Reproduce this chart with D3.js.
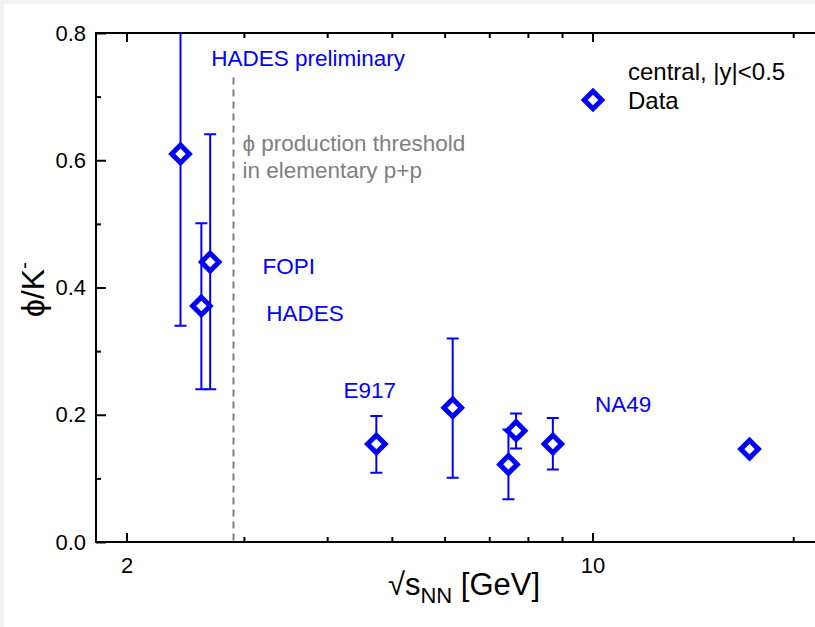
<!DOCTYPE html>
<html>
<head>
<meta charset="utf-8">
<script src="https://cdn.jsdelivr.net/npm/d3@7"></script>
<style>
  html, body { margin: 0; padding: 0; background: #f2f2f2; }
  svg { display: block; }
  text { font-family: "Liberation Sans", Arial, Helvetica, sans-serif; }
</style>
</head>
<body>
<div id="chart"></div>
<script>
// Data
let sqrtS    = [2.41, 2.59, 2.67, 4.74, 6.17, 7.48, 7.68, 8.72, 17.2];
let ratio    = [0.610, 0.371, 0.440, 0.154, 0.211, 0.122, 0.175, 0.154, 0.146];
let errLow   = [0.340, 0.240, 0.240, 0.109, 0.101, 0.067, 0.147, 0.114, null];
let errHigh  = [0.880, 0.501, 0.641, 0.198, 0.320, 0.177, 0.202, 0.195, null];

let xMajorTicks = [2, 10];
let xMinorTicks = [3, 4, 5, 6, 7, 8, 9, 20, 30];
let yMajorTicks = [0.0, 0.2, 0.4, 0.6, 0.8];
let yMinorTicks = [0.1, 0.3, 0.5, 0.7];

let thresholdX = 2.894;   // phi threshold in p+p

// annotation text anchors, in data units
let labelText = ["HADES preliminary", "FOPI", "HADES", "E917", "NA49"];
let labelX    = [2.68, 3.20, 3.24, 4.23, 10.09];
let labelY    = [0.748, 0.422, 0.348, 0.227, 0.204];

let width = 815, height = 627;
let margin = { top: 33, left: 96, bottom: 85 };
let plotH = height - margin.top - margin.bottom;   // 509

let svg = d3.select("#chart")
    .append("svg")
    .attr("width", width)
    .attr("height", height);

svg.append("rect")
    .attr("x", 4).attr("y", 4)
    .attr("width", width - 4).attr("height", height - 4)
    .attr("fill", "white");

let xScale = d3.scaleLog()
    .domain([1.8, 30])
    .range([margin.left, margin.left + 666.7 * Math.log10(30 / 1.8)]);

let yScale = d3.scaleLinear()
    .domain([0, 0.8])
    .range([margin.top + plotH, margin.top]);

let blue = "#0000ff";
let grey = "#808080";

svg.append("defs")
    .append("clipPath")
    .attr("id", "clip")
    .append("rect")
    .attr("x", margin.left)
    .attr("y", margin.top)
    .attr("width", width)
    .attr("height", plotH);

/* threshold line */
svg.append("line")
    .attr("x1", xScale(thresholdX)).attr("x2", xScale(thresholdX))
    .attr("y1", yScale(0.73)).attr("y2", yScale(0))
    .attr("stroke", grey)
    .attr("stroke-width", 2)
    .attr("stroke-dasharray", "7,5");

let threshLabel = svg.append("text")
    .attr("fill", grey)
    .attr("font-size", "22.5px");
threshLabel.append("tspan")
    .attr("x", xScale(thresholdX) + 9).attr("y", 151)
    .text("\u03d5 production threshold");
threshLabel.append("tspan")
    .attr("x", xScale(thresholdX) + 9).attr("y", 178)
    .text("in elementary p+p");

/* axes */
function drawXAxis(axisFn, y, ticks, size, labels) {
    let a = axisFn(xScale)
        .tickValues(ticks)
        .tickSizeInner(size)
        .tickSizeOuter(0)
        .tickPadding(15)
        .tickFormat(labels ? d3.format("d") : "");
    let g = svg.append("g")
        .attr("transform", `translate(0, ${y})`)
        .call(a);
    g.select(".domain").remove();
    g.selectAll(".tick line").attr("stroke", "black").attr("stroke-width", 2);
    g.selectAll(".tick text")
        .attr("font-size", "22px")
        .attr("fill", "black")
        .style("font-family", "'Liberation Sans', Arial, sans-serif");
    return g;
}

drawXAxis(d3.axisBottom, yScale(0), xMinorTicks, -5, false);
drawXAxis(d3.axisBottom, yScale(0), xMajorTicks, -9, true);
drawXAxis(d3.axisTop, yScale(0.8), xMinorTicks, -5, false);
drawXAxis(d3.axisTop, yScale(0.8), xMajorTicks, -9, false);

function drawYAxis(ticks, size, labels) {
    let a = d3.axisLeft(yScale)
        .tickValues(ticks)
        .tickSizeInner(size)
        .tickSizeOuter(0)
        .tickPadding(10)
        .tickFormat(labels ? d3.format(".1f") : "");
    let g = svg.append("g")
        .attr("transform", `translate(${margin.left}, 0)`)
        .call(a);
    g.select(".domain").remove();
    g.selectAll(".tick line").attr("stroke", "black").attr("stroke-width", 2);
    g.selectAll(".tick text")
        .attr("font-size", "22px")
        .attr("fill", "black")
        .style("font-family", "'Liberation Sans', Arial, sans-serif");
}

drawYAxis(yMinorTicks, -5, false);
drawYAxis(yMajorTicks, -10, true);

// frame lines (left, bottom, top; the right edge is outside the picture)
svg.append("path")
    .attr("d", `M${width + 5},${yScale(0.8)} H${margin.left} V${yScale(0)} H${width + 5}`)
    .attr("fill", "none")
    .attr("stroke", "black")
    .attr("stroke-width", 2);

/* axis titles */
let xTitle = svg.append("text")
    .attr("x", 464)
    .attr("y", 595)
    .attr("text-anchor", "middle")
    .attr("font-size", "31px")
    .attr("fill", "black");
xTitle.append("tspan").text("\u221as");
xTitle.append("tspan").attr("font-size", "22px").attr("dy", 8).text("NN");
xTitle.append("tspan").attr("dy", -8).text(" [GeV]");

let yTitle = svg.append("text")
    .attr("transform", `translate(44, ${yScale(0.4) + 2}) rotate(-90)`)
    .attr("text-anchor", "middle")
    .attr("font-size", "32px")
    .attr("fill", "black");
yTitle.append("tspan").text("\u03d5/K");
yTitle.append("tspan").attr("font-size", "21px").attr("dy", -13).text("-");

/* data */
let points = sqrtS.map((s, i) => ({ x: s, y: ratio[i], lo: errLow[i], hi: errHigh[i] }));

let main = svg.append("g").attr("clip-path", "url(#clip)");

let capW = 6;
main.selectAll(".err")
    .data(points.filter(d => d.lo !== null))
    .enter()
    .append("path")
    .attr("class", "err")
    .attr("d", d => {
        let x = xScale(d.x), y1 = yScale(d.lo), y2 = yScale(d.hi);
        return `M${x},${y1} V${y2} M${x - capW},${y1} H${x + capW} M${x - capW},${y2} H${x + capW}`;
    })
    .attr("fill", "none")
    .attr("stroke", blue)
    .attr("stroke-width", 2);

let r = 8.8;
let diamond = `M0,${-r} L${r},0 L0,${r} L${-r},0 Z`;

main.selectAll(".pt")
    .data(points)
    .enter()
    .append("path")
    .attr("class", "pt")
    .attr("transform", d => `translate(${xScale(d.x)}, ${yScale(d.y)})`)
    .attr("d", diamond)
    .attr("fill", "white")
    .attr("stroke", blue)
    .attr("stroke-width", 5);

/* experiment labels */
svg.selectAll(".lab")
    .data(labelText)
    .enter()
    .append("text")
    .attr("class", "lab")
    .attr("x", (d, i) => xScale(labelX[i]))
    .attr("y", (d, i) => yScale(labelY[i]))
    .attr("font-size", "22.5px")
    .attr("fill", blue)
    .text(d => d);

/* legend */
let legend = svg.append("g").attr("transform", "translate(593, 0)");
legend.append("text")
    .attr("x", 35).attr("y", 80)
    .attr("font-size", "24px")
    .attr("fill", "black")
    .text("central, |y|<0.5");
legend.append("path")
    .attr("transform", "translate(0, 100)")
    .attr("d", diamond)
    .attr("fill", "white")
    .attr("stroke", blue)
    .attr("stroke-width", 5);
legend.append("text")
    .attr("x", 35).attr("y", 109)
    .attr("font-size", "24px")
    .attr("fill", "black")
    .text("Data");
</script>
</body>
</html>
